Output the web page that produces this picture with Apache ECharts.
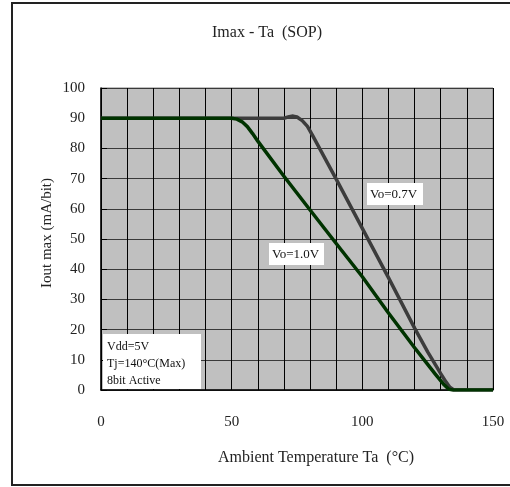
<!DOCTYPE html>
<html>
<head>
<meta charset="utf-8">
<script src="https://cdn.jsdelivr.net/npm/echarts@6/dist/echarts.min.js"></script>
<style>
  html, body { margin: 0; padding: 0; background: #fff; }
  #chart { width: 510px; height: 487px; }
</style>
</head>
<body>
<div id="chart"></div>
<script>
// Vo=0.7V curve (Ta, Iout)
const vo07 = [
  [0, 90], [70, 90], [72, 90.5], [73.5, 90.7], [75, 90.4], [77, 89.2], [79, 87.3],
  [81, 84.2], [90, 69.8], [100, 53.5], [110, 37.2], [120, 20.5],
  [125, 12.6], [128, 8.3], [130, 5.4], [132, 2.7], [133.5, 0.9], [135, 0], [150, 0]
]
// Vo=1.0V curve (Ta, Iout)
const vo10 = [
  [0, 90], [50, 90], [52, 89.7], [54, 88.8], [56, 87.2], [58, 84.9], [60, 82.4],
  [70, 70.8], [80, 59.6], [90, 48.5], [100, 37.5], [110, 25.5], [120, 14],
  [125, 8.5], [128, 5.2], [131, 2], [133, 0.3], [134.5, 0], [150, 0]
]
const xLabels = [0, 50, 100, 150]
const noteLines = ['Vdd=5V', 'Tj=140°C(Max)', '8bit Active']

const serif = "'Liberation Serif', 'DejaVu Serif', serif"
const chart = echarts.init(document.getElementById('chart'))

chart.setOption({
  backgroundColor: '#fff',
  animation: false,
  grid: {
    left: 101,
    top: 88,
    right: 17,
    bottom: 97,
    show: true,
    backgroundColor: '#c0c0c0',
    borderColor: '#808080',
    borderWidth: 1
  },
  xAxis: {
    type: 'value',
    min: 0,
    max: 150,
    interval: 10,
    axisLine: { show: true, lineStyle: { color: '#000', width: 1.5 } },
    axisTick: { show: false },
    splitLine: { show: true, lineStyle: { color: '#000', width: 1 } },
    axisLabel: {
      margin: 25,
      fontFamily: serif,
      fontSize: 15,
      color: '#222',
      formatter: v => (xLabels.indexOf(v) >= 0 ? String(v) : '')
    }
  },
  yAxis: {
    type: 'value',
    min: 0,
    max: 100,
    interval: 10,
    axisLine: { show: true, lineStyle: { color: '#000', width: 1.5 } },
    axisTick: { show: true, inside: true, length: 6, lineStyle: { color: '#000' } },
    splitLine: { show: true, lineStyle: { color: '#3a3a3a', width: 1 } },
    axisLabel: {
      margin: 16,
      fontFamily: serif,
      fontSize: 15,
      color: '#222'
    }
  },
  series: [
    {
      name: 'Vo=0.7V',
      type: 'line',
      data: vo07,
      showSymbol: false,
      smooth: false,
      lineStyle: { color: '#3c3c3c', width: 3.5, join: 'round' },
      z: 3
    },
    {
      name: 'Vo=1.0V',
      type: 'line',
      data: vo10,
      showSymbol: false,
      smooth: false,
      lineStyle: { color: '#003300', width: 3.5, join: 'round' },
      z: 4
    }
  ],
  graphic: [
    {
      type: 'rect',
      shape: { x: 12, y: 3, width: 520, height: 482 },
      style: { fill: 'none', stroke: '#222', lineWidth: 2 },
      silent: true
    },
    {
      type: 'text',
      x: 267,
      y: 33,
      style: {
        text: 'Imax - Ta  (SOP)',
        font: '16px ' + serif,
        fill: '#222',
        align: 'center',
        verticalAlign: 'middle'
      }
    },
    {
      type: 'text',
      x: 47,
      y: 233,
      rotation: Math.PI / 2,
      style: {
        text: 'Iout max (mA/bit)',
        font: '15px ' + serif,
        fill: '#222',
        align: 'center',
        verticalAlign: 'middle'
      }
    },
    {
      type: 'text',
      x: 316,
      y: 458,
      style: {
        text: 'Ambient Temperature Ta  (°C)',
        font: '16px ' + serif,
        fill: '#222',
        align: 'center',
        verticalAlign: 'middle'
      }
    },
    {
      type: 'text',
      x: 367,
      y: 183,
      z: 10,
      style: {
        text: 'Vo=0.7V',
        font: '13px ' + serif,
        fill: '#111',
        backgroundColor: '#fff',
        padding: [5, 3, 4, 3],
        width: 50
      }
    },
    {
      type: 'text',
      x: 269,
      y: 243,
      z: 10,
      style: {
        text: 'Vo=1.0V',
        font: '13px ' + serif,
        fill: '#111',
        backgroundColor: '#fff',
        padding: [5, 3, 4, 3],
        width: 49
      }
    },
    {
      type: 'rect',
      z: 10,
      shape: { x: 103, y: 334, width: 98, height: 55 },
      style: { fill: '#fff' }
    },
    {
      type: 'text',
      x: 107,
      y: 338,
      z: 11,
      style: {
        text: noteLines.join('\n'),
        font: '12px ' + serif,
        lineHeight: 17,
        fill: '#111'
      }
    }
  ]
})
</script>
</body>
</html>
